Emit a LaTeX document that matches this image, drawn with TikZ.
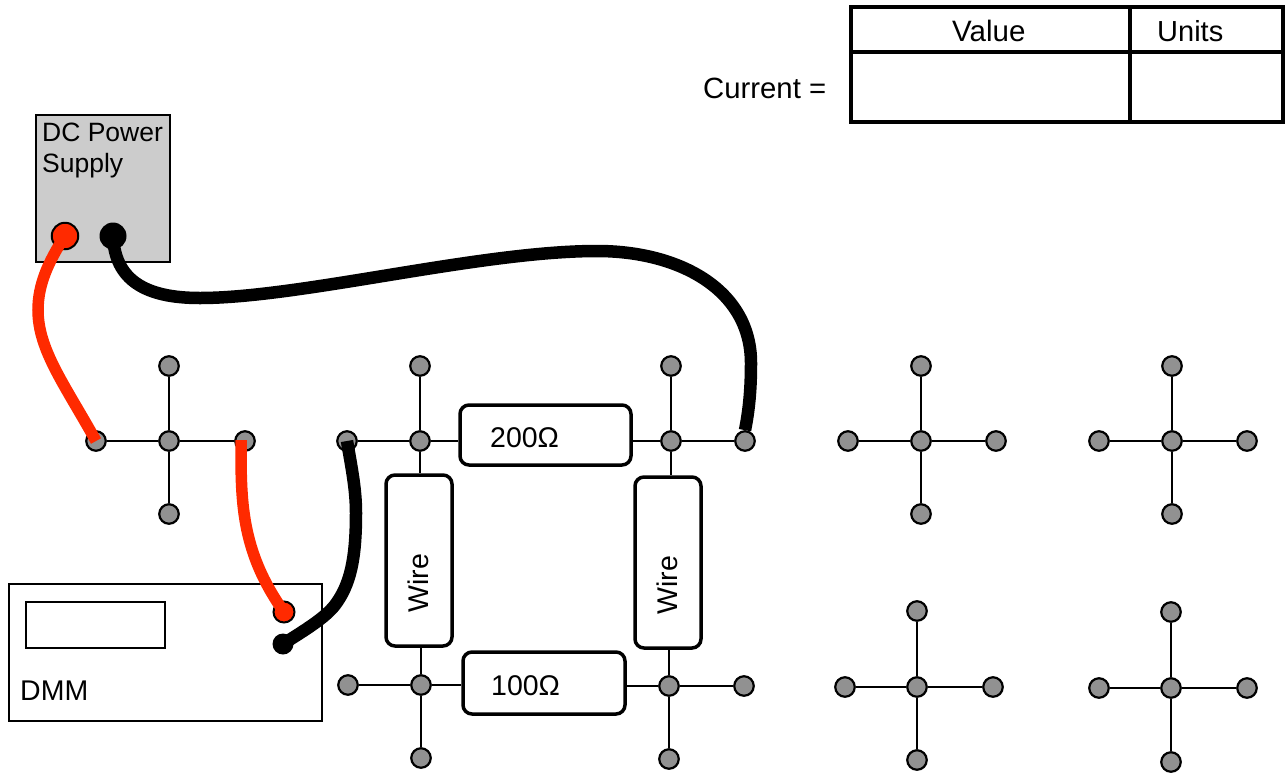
\documentclass[tikz,border=0pt]{standalone}
\usepackage{fontspec}
\setmainfont{Liberation Sans}
\definecolor{wirered}{HTML}{FF2A00}
\definecolor{psugray}{HTML}{CCCCCC}
\definecolor{postgray}{HTML}{919191}
\tikzset{
  x=1pt,y=-1pt,
  post/.style={circle,draw=black,fill=postgray,line width=2.2pt,minimum size=19.5pt,inner sep=0pt},
  lead/.style={line width=2.6pt,draw=black},
  partbox/.style={draw=black,fill=white,line width=3.5pt,rounded corners=9pt,inner sep=0pt,font=\fontsize{28.5}{32}\selectfont},
  hookred/.style={line width=11.5pt,draw=wirered},
  hookblack/.style={line width=12.5pt,draw=black},
  plainbox/.style={draw=black,line width=2pt,inner sep=0pt,outer sep=0pt},
  lab/.style={inner sep=0pt,anchor=base west,font=\fontsize{#1}{#1}\selectfont},
  grid line/.style={line width=4pt,draw=black}
}
\newcommand{\crossnodes}[7]{% prefix cx cy ny sy wx ex
  \node[post] (#1c) at (#2,#3) {};
  \node[post] (#1n) at (#2,#4) {};
  \node[post] (#1s) at (#2,#5) {};
  \node[post] (#1w) at (#6,#3) {};
  \node[post] (#1e) at (#7,#3) {};
  \draw[lead] (#1c) -- (#1n);
  \draw[lead] (#1c) -- (#1s);
  \draw[lead] (#1c) -- (#1w);
  \draw[lead] (#1c) -- (#1e);
}
\begin{document}
\begin{tikzpicture}
\useasboundingbox (0,0) rectangle (1287,772);

% result table
\draw[grid line] (851,7) rectangle (1283,122);
\coordinate (vt) at (1130,7);
\coordinate (vb) at (1130,122);
\coordinate (hl) at (851,52);
\coordinate (hr) at (1283,52);
\draw[grid line] (vt) -- (vb);
\draw[grid line] (hl) -- (hr);
\node[lab=29.5] (value) at (952,41) {Value};
\node[lab=29] (units) at (1157,41) {Units};
\node[lab=29.3] (current) at (703,98) {Current =};

% instruments
\node[draw=black,fill=psugray,line width=2pt,outer sep=0pt,minimum width=134pt,minimum height=147pt,inner sep=0pt,anchor=north west] (psu) at (36,115) {};
\node[inner sep=0pt,anchor=north west,align=left,font=\fontsize{26.5}{31}\selectfont] (psulabel) at (42,123) {DC Power\\Supply};
\node[circle,draw=black,fill=wirered,line width=2pt,minimum size=26.5pt,inner sep=0pt] (psured) at (65,236) {};
\node[circle,fill=black,minimum size=27pt,inner sep=0pt] (psublack) at (113,236) {};

\node[plainbox,minimum width=313pt,minimum height=137pt,anchor=north west] (dmm) at (9,584) {};
\node[plainbox,minimum width=139pt,minimum height=46pt,anchor=north west] (display) at (26,602) {};
\node[lab=28.5] (dmmlabel) at (20,700) {DMM};
\node[circle,draw=black,fill=wirered,line width=2pt,minimum size=21pt,inner sep=0pt] (dmmred) at (284,612) {};
\node[circle,fill=black,minimum size=21pt,inner sep=0pt] (dmmblack) at (283,644) {};

% breadboard crosses
\crossnodes{a}{169}{441}{366}{514}{96}{245}
\crossnodes{e}{921}{441}{366}{514}{848}{996}
\crossnodes{f}{1172}{441}{366}{514}{1099}{1247}
\crossnodes{g}{917}{687}{611}{760}{845}{993}
\crossnodes{h}{1171}{688}{612}{762}{1099}{1247}

% circuit posts
\node[post] (bc) at (420,441) {};
\node[post] (bn) at (420,366) {};
\node[post] (bw) at (347,441) {};
\node[post] (cc) at (671,441) {};
\node[post] (cn) at (671,366) {};
\node[post] (ce) at (745,441) {};
\node[post] (dc) at (421,685) {};
\node[post] (dw) at (348,685) {};
\node[post] (ds) at (421,758) {};
\node[post] (kc) at (669,686) {};
\node[post] (ke) at (744,686) {};
\node[post] (ks) at (669,759) {};

\draw[lead] (bc) -- (bn);
\draw[lead] (bc) -- (bw);
\draw[lead] (cc) -- (cn);
\draw[lead] (cc) -- (ce);
\draw[lead] (dc) -- (dw);
\draw[lead] (dc) -- (ds);
\draw[lead] (kc) -- (ke);
\draw[lead] (kc) -- (ks);

% components
\node[partbox,minimum width=171pt,minimum height=60pt] (rtop) at (545.5,435) {};
\node[lab=28.5] (rtoptext) at (490,447) {200Ω};
\node[partbox,minimum width=162pt,minimum height=62pt] (rbot) at (544,683) {};
\node[lab=28.5] (rbottext) at (491,695) {100Ω};
\node[partbox,minimum width=66pt,minimum height=171pt] (wl) at (419,560.5) {};
\node[inner sep=0pt,rotate=90,font=\fontsize{28.5}{32}\selectfont] at (418,583) (wltext) {Wire};
\node[partbox,minimum width=66pt,minimum height=171pt] (wr) at (668,562.5) {};
\node[inner sep=0pt,rotate=90,font=\fontsize{28.5}{32}\selectfont] at (667,585) (wrtext) {Wire};

\draw[lead] (bc) -- (bc -| rtop.west);
\draw[lead] (cc) -- (cc -| rtop.east);
\draw[lead] (bc) -- (bc |- wl.north);
\draw[lead] (cc) -- (cc |- wr.north);
\draw[lead] (dc) -- (dc |- wl.south);
\draw[lead] (kc) -- (kc |- wr.south);
\draw[lead] (dc) -- (dc -| rbot.west);
\draw[lead] (kc) -- (kc -| rbot.east);

% hook-up wires
\draw[hookred] (psured.center) .. controls (48,262) and (38,285) .. (38,310)
  .. controls (38,350) and (65,385) .. (aw.center);
\draw[hookblack] (psublack.center) .. controls (115,280) and (145,298) .. (200,298)
  .. controls (300,298) and (480,251) .. (597,251)
  .. controls (680,251) and (751,290) .. (751,363)
  .. controls (751,390) and (749,410) .. (ce.north);
\draw[hookred] (241,440) .. controls (241,500) and (240,550) .. (dmmred.center);
\draw[hookblack] (bw.center) .. controls (352,470) and (356,490) .. (356,513)
  .. controls (356,560) and (350,585) .. (335,605)
  .. controls (325,618) and (305,630) .. (dmmblack.center);
\end{tikzpicture}
\end{document}
